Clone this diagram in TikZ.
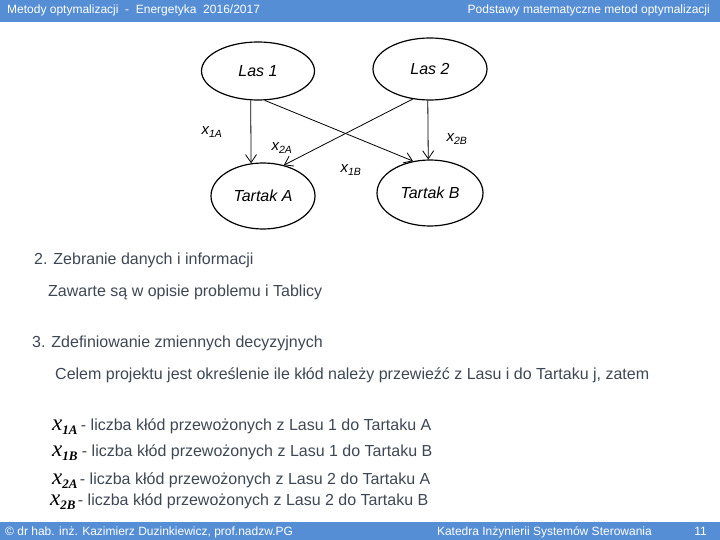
\documentclass[tikz,border=0pt]{standalone}
\usepackage{fontspec}
\setmainfont{Liberation Sans}
\newfontfamily\varfont{Liberation Serif}
\usetikzlibrary{shapes.geometric, arrows.meta, positioning}
\definecolor{barblue}{RGB}{85,142,213}
\definecolor{bodygray}{RGB}{62,72,84}
\newcommand{\varsub}[2]{\raisebox{-4pt}{\fontsize{13}{14}\selectfont\bfseries #1\itshape #2}}

\begin{document}
\begin{tikzpicture}[
    x=1pt, y=-1pt,
    wood/.style={ellipse, draw, line width=1.2pt, inner sep=0pt, font=\fontsize{16}{18}\selectfont\itshape},
    arr/.style={-{Straight Barb[length=8pt, width=11pt]}, line width=0.8pt},
    flow/.style={font=\fontsize{15}{17}\selectfont\itshape, inner sep=0pt},
    bar/.style={font=\fontsize{12}{14}\selectfont, text=white, inner sep=0pt},
    body/.style={font=\fontsize{16}{19}\selectfont, text=bodygray, inner sep=0pt, anchor=base west},
    var/.style={font=\varfont\fontsize{23}{24}\selectfont\itshape, inner sep=0pt, anchor=base west},
]
    \useasboundingbox (0,0) rectangle (720,540);
    \fill[white] (0,0) rectangle (720,540);

    % header and footer bars
    \fill[barblue] (0,0) rectangle (720,22);
    \fill[barblue] (0,522) rectangle (720,540);
    \node[bar, anchor=base west] (head1) at (7,14) {Metody optymalizacji \ - \ Energetyka \ 2016/2017};
    \node[bar, anchor=base east] (head2) at (710,14) {Podstawy matematyczne metod optymalizacji};
    \node[bar, anchor=base west] (foot1) at (5,535) {© dr hab. inż. Kazimierz Duzinkiewicz, prof.nadzw.PG};
    \node[bar, anchor=base east] (foot2) at (652,535) {Katedra Inżynierii Systemów Sterowania};
    \node[bar, anchor=base east] (foot3) at (707,535) {11};

    % forests and sawmills
    \node[wood, minimum width=113pt, minimum height=58pt] (las1)    at (258,71)  {Las 1};
    \node[wood, minimum width=114pt, minimum height=62pt] (las2)    at (430,69)  {Las 2};
    \node[wood, minimum width=104pt, minimum height=66pt] (tartakA) at (263,196) {Tartak A};
    \node[wood, minimum width=106pt, minimum height=66pt] (tartakB) at (430,193) {Tartak B};

    \draw[arr] (las1.256.4) -- (tartakA.110.6);
    \draw[arr] (las1.283.6) -- (tartakB.118.7);
    \draw[arr] (las2.240.5) -- (tartakA.56.7);
    \draw[arr] (las2.266.3) -- (tartakB.93.5);

    \node[flow] (x1a) at (212,132) {x\textsubscript{1A}};
    \node[flow] (x2a) at (282,148) {x\textsubscript{2A}};
    \node[flow] (x1b) at (351,170) {x\textsubscript{1B}};
    \node[flow] (x2b) at (457,139) {x\textsubscript{2B}};

    % text
    \node[body] (step2)  at (34,264)  {2. Zebranie danych i informacji};
    \node[body] (data)   at (48,296)  {Zawarte są w opisie problemu i Tablicy};
    \node[body] (step3)  at (32,347)  {3. Zdefiniowanie zmiennych decyzyjnych};
    \node[body] (goal)   at (55,379)  {Celem projektu jest określenie ile kłód należy przewieźć z Lasu i do Tartaku j, zatem};

    \node[var] (v1a) at (52,430) {x\varsub{1}{A}};
    \node[var] (v1b) at (52,456) {x\varsub{1}{B}};
    \node[var] (v2a) at (52,484) {x\varsub{2}{A}};
    \node[var] (v2b) at (50,505) {x\varsub{2}{B}};
    \node[body, base right=3pt of v1a] (d1a) {- liczba kłód przewożonych z Lasu 1 do Tartaku A};
    \node[body, base right=4pt of v1b] (d1b) {- liczba kłód przewożonych z Lasu 1 do Tartaku B};
    \node[body, base right=2pt of v2a] (d2a) {- liczba kłód przewożonych z Lasu 2 do Tartaku A};
    \node[body, base right=2pt of v2b] (d2b) {- liczba kłód przewożonych z Lasu 2 do Tartaku B};
\end{tikzpicture}
\end{document}
